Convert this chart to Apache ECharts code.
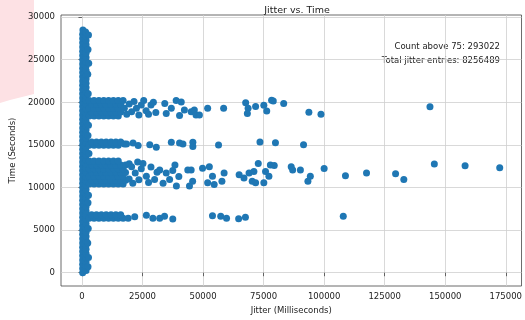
<!DOCTYPE html>
<html>
<head>
<meta charset="utf-8">
<script src="https://cdn.jsdelivr.net/npm/echarts@6/dist/echarts.min.js"></script>
<style>
  html, body { margin: 0; padding: 0; background: #fff; }
  #chart { width: 525px; height: 320px; }
</style>
</head>
<body>
<div id="chart"></div>
<script>
// tick values
const xTicks = [0, 25000, 50000, 75000, 100000, 125000, 150000, 175000];
const yTicks = [0, 5000, 10000, 15000, 20000, 25000, 30000];

// [jitter ms, time s] -- the thick column of small jitter values near 0
const columnPoints = [
  [300,0],[300,500],[300,1000],[300,1500],[300,2000],[300,2500],[300,3000],[300,3500],[300,4000],[300,4500],
  [300,5000],[300,5500],[300,6000],[300,6500],[300,7000],[300,7500],[300,8000],[300,8500],[300,9000],[300,9500],
  [300,10000],[300,10500],[300,11000],[300,11500],[300,12000],[300,12500],[300,13000],[300,13500],[300,14000],[300,14500],
  [300,15000],[300,15500],[300,16000],[300,16500],[300,17000],[300,17500],[300,18000],[300,18500],[300,19000],[300,19500],
  [300,20000],[300,20500],[300,21000],[300,21500],[300,22000],[300,22500],[300,23000],[300,23500],[300,24000],[300,24500],
  [300,25000],[300,25500],[300,26000],[300,26500],[300,27000],[300,27500],[300,28000],[400,28500],
  [1700,250],[1700,750],[1700,1250],[1700,1750],[1700,2250],[1700,2750],[1700,3250],[1700,3750],[1700,4250],[1700,4750],
  [1700,5250],[1700,5750],[1700,6250],[1700,6750],[1700,7250],[1700,7750],[1700,8250],[1700,8750],[1700,9250],[1700,9750],
  [1700,10250],[1700,10750],[1700,11250],[1700,11750],[1700,12250],[1700,12750],[1700,13250],[1700,13750],[1700,14250],[1700,14750],
  [1700,15250],[1700,15750],[1700,16250],[1700,16750],[1700,17250],[1700,17750],[1700,18250],[1700,18750],[1700,19250],[1700,19750],
  [1700,20250],[1700,20750],[1700,21250],[1700,21750],[1700,22250],[1700,22750],[1700,23250],[1700,23750],[1700,24250],[1700,24750],
  [1700,25250],[1700,25750],[1700,26250],[1700,26750],[1700,27250],[1700,27750],[1500,28250],
  [2700,27900],[2500,26200],[2800,24600],[2400,23300],[2600,21000],[2700,17300],[2500,16100],
  [2900,14000],[2700,9100],[2500,8200],[2600,5200],[2400,3500],[2700,1800],[2500,700]
];

const band20k = [
  [3000,18400],[5000,18400],[7000,18400],[9000,18400],[11000,18400],[13000,18400],[15000,18400],
  [4000,18850],[6000,18850],[8000,18850],[10000,18850],[12000,18850],[14000,18850],[16000,18850],
  [3000,19300],[5000,19300],[7000,19300],[9000,19300],[11000,19300],[13000,19300],[15000,19300],
  [4000,19750],[6000,19750],[8000,19750],[10000,19750],[12000,19750],[14000,19750],[16000,19750],
  [3000,20200],[5000,20200],[7000,20200],[9000,20200],[11000,20200],[13000,20200],[15000,20200],
  [17000,20200],[17500,19300],[18500,18600],[19500,19800],[20500,18900],[21500,20100],[22500,19300],
  [23500,18500],[24500,19700],[25500,20200],[26500,19000],[27500,18600],[28500,19700],[29500,20000],
  [30500,18800],
  [34200,19850],[34800,18700],[36900,19300],[38900,20200],[41000,20050],[40300,18450],[42300,19100],
  [45100,18900],[46400,19100],[47100,18500],[48500,18500],[51900,19300],[58500,19300],[67600,19950],
  [68600,19300],[68300,18700],[71700,19500],[75100,19650],[76300,18980],[78300,20230],[79000,20150],
  [83300,19850],[93700,18830],[98700,18600],[143700,19480]
];

const band15k = [
  [3000,14950],[5000,14950],[7000,14950],[9000,14950],[11000,14950],[13000,14950],[15000,14950],
  [4000,15350],[6000,15350],[8000,15350],[10000,15350],[12000,15350],[14000,15350],[16000,15350],
  [17500,15100],[18400,15100],[21100,15220],[23200,14920],[28000,15030],[30700,14730],[36900,15300],
  [40300,15220],[41700,15100],[45800,15300],[45800,14810],[56400,14990],[73500,15350],[79900,15250],
  [91500,15030]
];

const band11k = [
  [3000,10400],[5000,10400],[7000,10400],[9000,10400],[11000,10400],[13000,10400],[15000,10400],[17000,10400],
  [4000,10850],[6000,10850],[8000,10850],[10000,10850],[12000,10850],[14000,10850],[16000,10850],[18000,10850],
  [3000,11300],[5000,11300],[7000,11300],[9000,11300],[11000,11300],[13000,11300],[15000,11300],[17000,11300],
  [4000,11750],[6000,11750],[8000,11750],[10000,11750],[12000,11750],[14000,11750],[16000,11750],[18000,11750],
  [3000,12200],[5000,12200],[7000,12200],[9000,12200],[11000,12200],[13000,12200],[15000,12200],[17000,12200],
  [4000,12650],[6000,12650],[8000,12650],[10000,12650],[12000,12650],[14000,12650],[16000,12650],[18000,12650],
  [3000,13100],[5000,13100],[7000,13100],[9000,13100],[11000,13100],[13000,13100],[15000,13100],
  [19500,12800],[19500,11000],[20500,12450],[21000,10500],[22000,11700],[23000,13000],[23500,10900],
  [24500,12200],[25200,12830],[26600,11310],[27500,10600],[28500,12400],[30000,10930],[31000,11800],
  [32100,12070],[33500,10500],[34800,11690],[36200,10930],[37500,12000],[38400,12640],[39000,10170],
  [40000,11300],
  [43700,12070],[45100,12070],[45700,10740],[44400,10170],[49800,12260],[52600,12450],[53900,11310],
  [51900,10550],[54600,10360],[57800,10740],[58700,11690],[64900,11500],[66900,11120],[69000,11690],
  [71000,11880],[70300,10740],[71700,10550],[75100,10550],[72800,12830],[75800,11880],[77200,11310],
  [77800,12640],[79400,12580],[86400,12450],[87000,12070],[90200,12070],[94300,11310],[93300,10740],
  [100000,12230],[108800,11390],[117500,11690],[129500,11620],[132900,10930],[145500,12760],
  [158200,12560],[172500,12330]
];

const band6k = [
  [3000,6400],[5000,6400],[7000,6400],[9000,6400],[11000,6400],[13000,6400],[15000,6400],[17000,6400],
  [4000,6800],[6000,6800],[8000,6800],[10000,6800],[12000,6800],[14000,6800],[16000,6800],
  [19100,6380],[21800,6560],[26600,6750],[29300,6380],[32100,6380],[34100,6640],[37500,6300],
  [53900,6700],[57300,6640],[59700,6380],[64700,6340],[67500,6520],[107900,6640]
];

const allPoints = [].concat(columnPoints, band20k, band15k, band11k, band6k);

const gridLines = xTicks.map(v => ({ xAxis: v })).concat(yTicks.map(v => ({ yAxis: v })));

const font = 'DejaVu Sans';
const chart = echarts.init(document.getElementById('chart'));
chart.setOption({
  animation: false,
  title: {
    text: 'Jitter vs. Time',
    left: 292,
    top: 1,
    textAlign: 'center',
    textStyle: { fontFamily: font, fontSize: 9.5, fontWeight: 'normal', color: '#222' }
  },
  grid: {
    left: 61, right: 2, top: 15, bottom: 27,
    show: true, borderColor: '#444', borderWidth: 0.8
  },
  xAxis: {
    type: 'value',
    min: -8650,
    max: 181500,
    name: 'Jitter (Milliseconds)',
    nameLocation: 'middle',
    nameGap: 20,
    nameTextStyle: { fontFamily: font, fontSize: 8.5, color: '#222' },
    axisLine: { show: false },
    axisTick: { show: true, customValues: xTicks, length: 3.5, lineStyle: { color: '#444', width: 0.8 } },
    axisLabel: { customValues: xTicks, margin: 6, fontFamily: font, fontSize: 8.5, color: '#222',
                 formatter: v => String(v) },
    splitLine: { show: false }
  },
  yAxis: {
    type: 'value',
    min: -1560,
    max: 30250,
    name: 'Time (Seconds)',
    nameLocation: 'middle',
    nameGap: 33,
    nameTextStyle: { fontFamily: font, fontSize: 8.5, color: '#222' },
    axisLine: { show: false },
    axisTick: { show: true, customValues: yTicks, length: 3.5, lineStyle: { color: '#444', width: 0.8 } },
    axisLabel: { customValues: yTicks, margin: 6, fontFamily: font, fontSize: 8.5, color: '#222',
                 formatter: v => String(v) },
    splitLine: { show: false }
  },
  graphic: [
    {
      type: 'polygon', z: -10, silent: true,
      shape: { points: [[0, 0], [34, 0], [34, 94], [22, 97], [10, 100], [0, 103]] },
      style: { fill: '#fde1e4' }
    },
    {
      type: 'text', x: 500, y: 47,
      style: { text: 'Count above 75: 293022', fontFamily: font, fontSize: 8.5, fill: '#222',
               align: 'right', verticalAlign: 'middle' }
    },
    {
      type: 'text', x: 500, y: 61,
      style: { text: 'Total jitter entries: 8256489', fontFamily: font, fontSize: 8.5, fill: '#222',
               align: 'right', verticalAlign: 'middle' }
    }
  ],
  series: [
    {
      type: 'scatter',
      data: [],
      z: 1,
      markLine: {
        z: 0,
        silent: true,
        symbol: ['none', 'none'],
        label: { show: false },
        lineStyle: { color: '#cfcfcf', width: 0.8, type: 'solid' },
        emphasis: { disabled: true },
        data: gridLines
      }
    },
    {
      type: 'scatter',
      data: allPoints,
      z: 3,
      symbolSize: 7,
      itemStyle: { color: '#1f77b4', opacity: 1, borderWidth: 0 }
    }
  ]
});
</script>
</body>
</html>
